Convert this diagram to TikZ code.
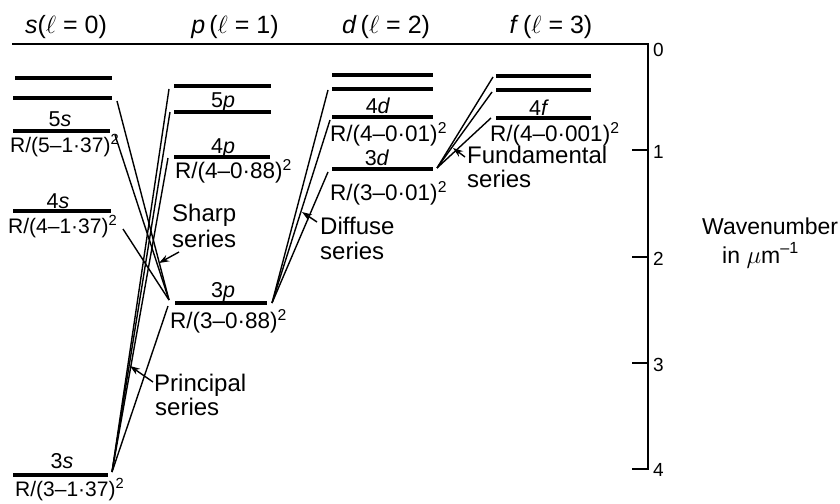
\documentclass[tikz,border=0pt]{standalone}
\usepackage{fontspec}
\setmainfont{Liberation Sans}
\usetikzlibrary{arrows.meta}
\begin{document}
\begin{tikzpicture}[x=1pt,y=-1pt,
  lev/.style={line width=3.5pt},
  trans/.style={line width=1.4pt},
  ptr/.style={line width=1.4pt,-{Stealth[length=10pt,width=7pt]}},
  ax/.style={line width=2.2pt},
  hdr/.style={inner sep=0pt,anchor=base,font=\fontsize{25}{28}\selectfont},
  lbl/.style={inner sep=0pt,anchor=base,font=\fontsize{21.5}{24}\selectfont},
  rls/.style={inner sep=0pt,anchor=base west,font=\fontsize{21}{24}\selectfont},
  rl/.style={inner sep=0pt,anchor=base west,font=\fontsize{22.5}{25}\selectfont},
  ser/.style={inner sep=0pt,anchor=base west,font=\fontsize{24}{27}\selectfont},
  wn/.style={inner sep=0pt,anchor=base west,font=\fontsize{23}{26}\selectfont},
  ticklbl/.style={inner sep=0pt,anchor=west,font=\fontsize{19}{21}\selectfont},
]
\useasboundingbox (0,0) rectangle (840,503);

% energy levels
\foreach \n/\xa/\xb/\y in {s7/15/112/78, s6/13/112/98, s5/13/110/131, s4/13/111/211, s3/13/108/475,
  p6/174/271/86, p5/174/271/112, p4/174/270/157, p3/175/267/303,
  d6/332/433/75, d5/332/433/89, d4/332/433/117, d3/332/433/169,
  f6/496/591/76, f5/496/591/90, f4/496/591/118}
{\coordinate (\n-L) at (\xa,\y); \coordinate (\n-R) at (\xb,\y); \draw[lev] (\n-L) -- (\n-R);}

% transition end points
\coordinate (sh6) at (117,101); \coordinate (sh5) at (115,135); \coordinate (sh4) at (123,229);
\coordinate (p3in) at (169,300);
\coordinate (pr6) at (169,89); \coordinate (pr5) at (170,112); \coordinate (pr4) at (168,158);
\coordinate (pr3) at (168,306); \coordinate (s3in) at (112,472);
\coordinate (df5) at (328,90); \coordinate (df4) at (330,120); \coordinate (df3) at (328,172);
\coordinate (p3out) at (272,303);
\coordinate (fu6) at (493,77); \coordinate (fu5) at (492,92); \coordinate (fu4) at (491,118);
\coordinate (d3in) at (437,168);

% sharp series
\draw[trans] (sh6) -- (p3in);
\draw[trans] (sh5) -- (p3in);
\draw[trans] (sh4) -- (p3in);
% principal series
\draw[trans] (pr6) -- (s3in);
\draw[trans] (pr5) -- (s3in);
\draw[trans] (pr4) -- (s3in);
\draw[trans] (pr3) -- (s3in);
% diffuse series
\draw[trans] (df5) -- (p3out);
\draw[trans] (df4) -- (p3out);
\draw[trans] (df3) -- (p3out);
% fundamental series
\draw[trans] (fu6) -- (d3in);
\draw[trans] (fu5) -- (d3in);
\draw[trans] (fu4) -- (d3in);

% pointers
\coordinate (shT) at (179,252); \coordinate (shH) at (159,263);
\coordinate (prT) at (153,382); \coordinate (prH) at (130,366);
\coordinate (dfT) at (317,222); \coordinate (dfH) at (302,212);
\coordinate (fuT) at (465,157); \coordinate (fuH) at (453,148);
\draw[ptr] (shT) -- (shH);
\draw[ptr] (prT) -- (prH);
\draw[ptr] (dfT) -- (dfH);
\draw[ptr] (fuT) -- (fuH);

% headers
\node[hdr] (hs) at (66,34) {\textit{s}($\ell$ = 0)};
\node[hdr] (hp) at (235,34) {\textit{p}\,($\ell$ = 1)};
\node[hdr] (hd) at (386,34) {\textit{d}\,($\ell$ = 2)};
\node[hdr] (hf) at (551,34) {\textit{f}\,($\ell$ = 3)};

% level labels
\node[lbl] (l5s) at (60,126) {5\textit{s}};
\node[rls] (r5s) at (10,152) {R/(5–1·37)\textsuperscript{2}};
\node[lbl] (l4s) at (58,208) {4\textit{s}};
\node[rls] (r4s) at (8,233) {R/(4–1·37)\textsuperscript{2}};
\node[lbl] (l3s) at (62,468) {3\textit{s}};
\node[rls] (r3s) at (15,496) {R/(3–1·37)\textsuperscript{2}};
\node[lbl] (l5p) at (223,107) {5\textit{p}};
\node[lbl] (l4p) at (223,153) {4\textit{p}};
\node[rl]  (r4p) at (175,178) {R/(4–0·88)\textsuperscript{2}};
\node[lbl] (l3p) at (223,297) {3\textit{p}};
\node[rl]  (r3p) at (170,328) {R/(3–0·88)\textsuperscript{2}};
\node[lbl] (l4d) at (378,113) {4\textit{d}};
\node[rl]  (r4d) at (330,141) {R/(4–0·01)\textsuperscript{2}};
\node[lbl] (l3d) at (377,165) {3\textit{d}};
\node[rl]  (r3d) at (330,200) {R/(3–0·01)\textsuperscript{2}};
\node[lbl] (l4f) at (539,115) {4\textit{f}};
\node[rl]  (r4f) at (490,141) {R/(4–0·001)\textsuperscript{2}};

% series labels
\node[ser] (sh1) at (172,221) {Sharp};
\node[ser] (sh2) at (172,247) {series};
\node[ser] (df1) at (320,234) {Diffuse};
\node[ser] (df2) at (320,259) {series};
\node[ser] (pr1) at (154,391) {Principal};
\node[ser] (pr2) at (155,415) {series};
\node[ser] (fu1) at (467,163) {Fundamental};
\node[ser] (fu2) at (467,187) {series};

% axis
\coordinate (axTL) at (12,44); \coordinate (ax0) at (648,44); \coordinate (ax4) at (648,469);
\coordinate (tk4) at (632,469);
\draw[ax] (axTL) -- (ax0) -- (ax4) -- (tk4);
\foreach \v/\y in {1/150,2/257,3/363}
  {\coordinate (a\v) at (648,\y); \coordinate (b\v) at (632,\y); \draw[ax] (a\v) -- (b\v);}
\node[ticklbl] (t0) at (653,50) {0};
\node[ticklbl] (t1) at (653,152) {1};
\node[ticklbl] (t2) at (653,259) {2};
\node[ticklbl] (t3) at (653,365) {3};
\node[ticklbl] (t4) at (653,470) {4};
\node[wn] (wn1) at (702,234) {Wavenumber};
\node[wn] (wn2) at (722,263) {in $\mu$m\textsuperscript{–1}};
\end{tikzpicture}
\end{document}
